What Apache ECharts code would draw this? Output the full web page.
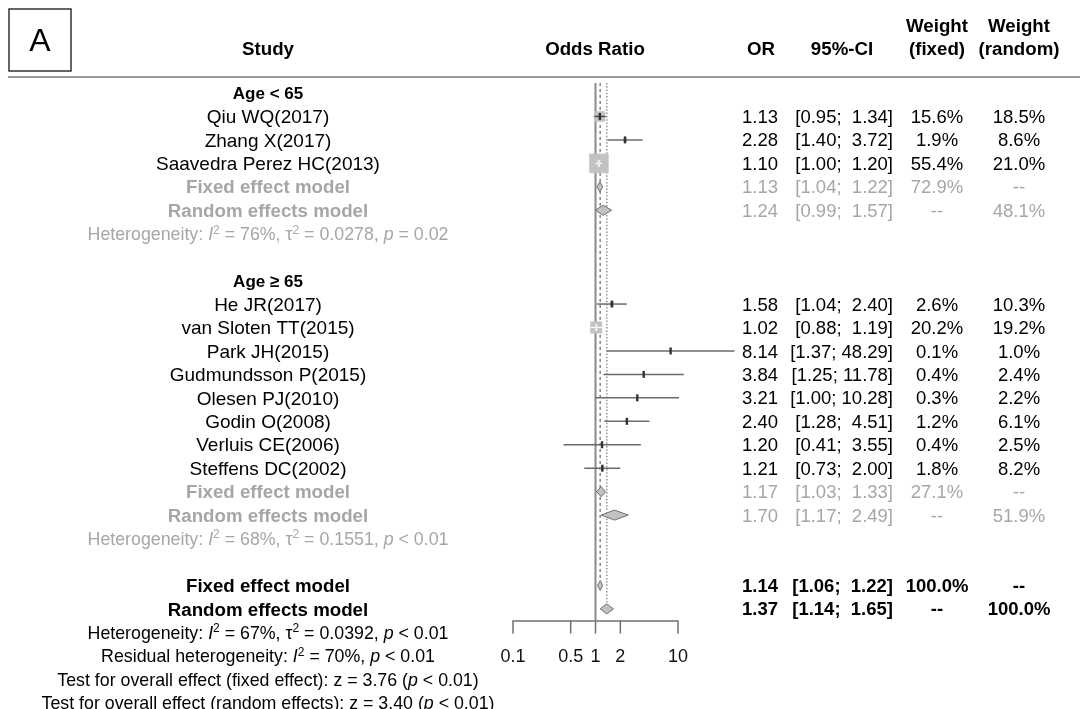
<!DOCTYPE html>
<html><head><meta charset="utf-8">
<script src="https://cdn.jsdelivr.net/npm/echarts@6/dist/echarts.min.js"></script>
<style>html,body{margin:0;padding:0;background:#fff}#c{width:1080px;height:709px}</style>
</head><body><div id="c"></div>
<script>
// ---------- data ----------
const studyNames = ['Qiu WQ(2017)','Zhang X(2017)','Saavedra Perez HC(2013)','He JR(2017)','van Sloten TT(2015)','Park JH(2015)','Gudmundsson P(2015)','Olesen PJ(2010)','Godin O(2008)','Verluis CE(2006)','Steffens DC(2002)'];
const studyRows = [1,2,3,9,10,11,12,13,14,15,16];
const studyOR = [1.13,2.28,1.10,1.58,1.02,8.14,3.84,3.21,2.40,1.20,1.21];
const studyLower = [0.95,1.40,1.00,1.04,0.88,1.37,1.25,1.00,1.28,0.41,0.73];
const studyUpper = [1.34,3.72,1.20,2.40,1.19,48.29,11.78,10.28,4.51,3.55,2.00];
const studyWFixed = [15.6,1.9,55.4,2.6,20.2,0.1,0.4,0.3,1.2,0.4,1.8];
const studyWRandom = [18.5,8.6,21.0,10.3,19.2,1.0,2.4,2.2,6.1,2.5,8.2];

const summaryNames = ['Fixed effect model','Random effects model','Fixed effect model','Random effects model','Fixed effect model','Random effects model'];
const summaryRows = [4,5,17,18,21,22];
const summaryOR = [1.13,1.24,1.17,1.70,1.14,1.37];
const summaryLower = [1.04,0.99,1.03,1.17,1.06,1.14];
const summaryUpper = [1.22,1.57,1.33,2.49,1.22,1.65];
const summaryWFixed = ['72.9%','--','27.1%','--','100.0%','--'];
const summaryWRandom = ['--','48.1%','--','51.9%','--','100.0%'];
const summaryOverall = [false,false,false,false,true,true];

const subgroupNames = ['Age < 65','Age \u2265 65'];
const subgroupRows = [0,8];

const hetRows = [6,19,23];
const hetI2 = ['76%','68%','67%'];
const hetTau2 = ['0.0278','0.1551','0.0392'];
const hetP = ['= 0.02','< 0.01','< 0.01'];
const hetOverall = [false,false,true];

const residI2 = '70%', residP = '< 0.01', residRow = 24;
const testLabels = ['fixed effect','random effects'];
const testZ = ['3.76','3.40'];
const testP = ['< 0.01','< 0.01'];
const testRows = [25,26];

const tickValues = [0.1,0.5,1,2,10];
const tickLabels = ['0.1','0.5','1','2','10'];

// ---------- styling ----------
const FONT = '"Liberation Sans", Arial, sans-serif';
const GRAY = '#a6a6a6';
const BLACK = '#000000';
const COL = {study:268, or:778, ci:893, wf:937, wr:1019};
const NAME_SIZE = 19, NUM_SIZE = 18.5, HET_SIZE = 17.8;

function rich(color, size){
  return {
    n:{fill:color, fontSize:size, fontFamily:FONT, lineHeight:22},
    i:{fill:color, fontSize:size, fontFamily:FONT, fontStyle:'italic', lineHeight:22},
    sup:{fill:color, fontSize:12, fontFamily:FONT, verticalAlign:'top', lineHeight:10}
  };
}
function fmt(v){ return v.toFixed(2); }
function ciText(lo, hi){ return '[' + fmt(lo) + '; ' + (hi < 10 ? ' ' : '') + fmt(hi) + ']'; }

// build table rows (text) from arrays
const tableRows = [];
subgroupNames.forEach((s,k)=>tableRows.push({row:subgroupRows[k], cells:[{x:COL.study, text:s, align:'center', color:BLACK, size:17, bold:true}]}));
studyNames.forEach((s,k)=>tableRows.push({row:studyRows[k], cells:[
  {x:COL.study, text:s, align:'center', color:BLACK, size:NAME_SIZE},
  {x:COL.or, text:fmt(studyOR[k]), align:'right', color:BLACK, size:NUM_SIZE},
  {x:COL.ci, text:ciText(studyLower[k], studyUpper[k]), align:'right', color:BLACK, size:NUM_SIZE},
  {x:COL.wf, text:studyWFixed[k].toFixed(1)+'%', align:'center', color:BLACK, size:NUM_SIZE},
  {x:COL.wr, text:studyWRandom[k].toFixed(1)+'%', align:'center', color:BLACK, size:NUM_SIZE}
]}));
summaryNames.forEach((s,k)=>{
  const c = summaryOverall[k] ? BLACK : GRAY;
  tableRows.push({row:summaryRows[k], cells:[
    {x:COL.study, text:s, align:'center', color:c, size:18.7, bold:true},
    {x:COL.or, text:fmt(summaryOR[k]), align:'right', color:c, size:NUM_SIZE, bold:summaryOverall[k]},
    {x:COL.ci, text:ciText(summaryLower[k], summaryUpper[k]), align:'right', color:c, size:NUM_SIZE, bold:summaryOverall[k]},
    {x:COL.wf, text:summaryWFixed[k], align:'center', color:c, size:NUM_SIZE, bold:summaryOverall[k]},
    {x:COL.wr, text:summaryWRandom[k], align:'center', color:c, size:NUM_SIZE, bold:summaryOverall[k]}
  ]});
});
hetRows.forEach((r,k)=>{
  const c = hetOverall[k] ? BLACK : GRAY;
  tableRows.push({row:r, cells:[{x:COL.study, align:'center', color:c, size:HET_SIZE, rich:true,
    text:'{n|Heterogeneity: }{i|I}{sup|2}{n| = '+hetI2[k]+', \u03c4}{sup|2}{n| = '+hetTau2[k]+', }{i|p}{n| '+hetP[k]+'}'}]});
});
tableRows.push({row:residRow, cells:[{x:COL.study, align:'center', color:BLACK, size:HET_SIZE, rich:true,
  text:'{n|Residual heterogeneity: }{i|I}{sup|2}{n| = '+residI2+', }{i|p}{n| '+residP+'}'}]});
testLabels.forEach((t,k)=>tableRows.push({row:testRows[k], cells:[{x:COL.study, align:'center', color:BLACK, size:HET_SIZE, rich:true,
  text:'{n|Test for overall effect ('+t+'): z = '+testZ[k]+' (}{i|p}{n| '+testP[k]+')}'}]}));

// ---------- chart ----------
const chart = echarts.init(document.getElementById('c'), null, {renderer:'canvas'});
const ROW0 = 93, ROWH = 23.45;
const gridTop = ROW0 - 0.5*ROWH;
const gridBottomPx = ROW0 + 22.5*ROWH;
const TEXT_DY = 1.5;

function renderTable(params, api){
  const t = tableRows[params.dataIndex];
  const y = api.coord([1, t.row])[1] + TEXT_DY;
  return {type:'group', children:t.cells.map(c=>{
    const style = {x:c.x, y:y, text:c.text, fill:c.color, align:c.align, verticalAlign:'middle',
      fontSize:c.size, fontFamily:FONT, fontWeight:c.bold?'bold':'normal'};
    if (c.rich) style.rich = rich(c.color, c.size);
    return {type:'text', style:style};
  })};
}

function renderRef(params, api){
  const x = api.coord([api.value(0), 0])[0];
  const y1 = api.coord([1, api.value(1)])[1];
  const y2 = api.coord([1, api.value(2)])[1];
  const kind = api.value(3);
  const st = kind === 0 ? {stroke:'#8a8a8a', lineWidth:2} :
             kind === 1 ? {stroke:'#8a8a8a', lineWidth:1.6, lineDash:[3,3]} :
                          {stroke:'#9a9a9a', lineWidth:1.6, lineDash:[1.5,1.8]};
  return {type:'line', shape:{x1:x, y1:y1, x2:x, y2:y2}, style:st};
}

function renderStudy(params, api){
  const or = api.value(0), lo = api.value(1), hi = api.value(2), row = api.value(3), w = api.value(4);
  const p = api.coord([or, row]);
  const xl = api.coord([lo, row])[0], xh = api.coord([hi, row])[0];
  const side = 2.55*Math.sqrt(w);
  const inside = (xh - xl) < side;
  const ch = [];
  if (!inside) ch.push({type:'line', shape:{x1:xl, y1:p[1], x2:xh, y2:p[1]}, style:{stroke:'#6a6a6a', lineWidth:1.5}});
  ch.push({type:'rect', shape:{x:p[0]-side/2, y:p[1]-side/2, width:side, height:side}, style:{fill:'#c2c2c2', stroke:'#c2c2c2', lineWidth:0.5}});
  if (inside) ch.push({type:'line', shape:{x1:xl, y1:p[1], x2:xh, y2:p[1]}, style:{stroke:'#ffffff', lineWidth:1.2}});
  else ch.push({type:'line', shape:{x1:Math.max(xl,p[0]-side/2), y1:p[1], x2:Math.min(xh,p[0]+side/2), y2:p[1]}, style:{stroke:'#4a4a4a', lineWidth:1.5}});
  ch.push({type:'rect', shape:{x:p[0]-1.2, y:p[1]-3.5, width:2.4, height:7}, style:{fill: inside ? '#eeeeee' : '#333333'}});
  return {type:'group', children:ch};
}

function renderDiamond(params, api){
  const or = api.value(0), lo = api.value(1), hi = api.value(2), row = api.value(3);
  const c = api.coord([or, row]);
  const xl = api.coord([lo, row])[0], xh = api.coord([hi, row])[0];
  const h = 5;
  return {type:'polygon', shape:{points:[[xl,c[1]],[c[0],c[1]-h],[xh,c[1]],[c[0],c[1]+h]]},
    style:{fill:'#c2c2c2', stroke:'#707070', lineWidth:1}};
}

function renderTicks(params, api){
  const v = api.value(0);
  const x = api.coord([v, 0])[0];
  const y = api.coord([1, 22.5])[1];
  return {type:'group', children:[
    {type:'line', shape:{x1:x, y1:y, x2:x, y2:y+13}, style:{stroke:'#707070', lineWidth:1.5}},
    {type:'text', style:{x:x, y:y+36, text:tickLabels[params.dataIndex], align:'center', verticalAlign:'middle', fontSize:18, fontFamily:FONT, fill:'#111'}}
  ]};
}

const refData = [[1, -0.43, 22.5, 0],[summaryOR[4], -0.43, 20.8, 1],[summaryOR[5], -0.43, 21.8, 2]];

const headerText = (x,y,t)=>({type:'text', x:x, y:y, style:{text:t, align:'center', verticalAlign:'middle', fontSize:18.7, fontWeight:'bold', fontFamily:FONT, fill:'#000'}});

chart.setOption({
  animation:false,
  backgroundColor:'#ffffff',
  grid:{left:513, right:1080-678, top:gridTop, bottom:709-gridBottomPx},
  xAxis:{type:'log', logBase:10, min:0.1, max:10, position:'bottom',
    axisLine:{show:true, onZero:false, lineStyle:{color:'#707070', width:1.5}},
    axisTick:{show:false}, axisLabel:{show:false}, splitLine:{show:false}},
  yAxis:{type:'value', min:-0.5, max:22.5, inverse:true, show:false},
  graphic:[
    {type:'rect', shape:{x:9, y:9, width:62, height:62}, style:{fill:'#fff', stroke:'#333', lineWidth:1.5}},
    {type:'text', x:40, y:42, style:{text:'A', align:'center', verticalAlign:'middle', fontSize:32, fontFamily:FONT, fill:'#000'}},
    {type:'line', shape:{x1:8, y1:77, x2:1080, y2:77}, style:{stroke:'#777', lineWidth:1.5}},
    headerText(COL.study, 50, 'Study'),
    headerText(595, 50, 'Odds Ratio'),
    headerText(761, 50, 'OR'),
    headerText(842, 50, '95%-CI'),
    headerText(COL.wf, 27, 'Weight'),
    headerText(COL.wf, 50, '(fixed)'),
    headerText(COL.wr, 27, 'Weight'),
    headerText(COL.wr, 50, '(random)')
  ],
  series:[
    {type:'custom', name:'ref', renderItem:renderRef, data:refData, clip:false, silent:true, z:1},
    {type:'custom', name:'studies', renderItem:renderStudy, clip:false, silent:true, z:3,
      data:studyOR.map((v,k)=>[v, studyLower[k], studyUpper[k], studyRows[k], studyWFixed[k]])},
    {type:'custom', name:'summary', renderItem:renderDiamond, clip:false, silent:true, z:3,
      data:summaryOR.map((v,k)=>[v, summaryLower[k], summaryUpper[k], summaryRows[k]])},
    {type:'custom', name:'ticks', renderItem:renderTicks, clip:false, silent:true, z:2,
      data:tickValues.map(v=>[v, 22.5])},
    {type:'custom', name:'table', renderItem:renderTable, clip:false, silent:true, z:4,
      data:tableRows.map(t=>[1, t.row])}
  ]
});
</script>
</body></html>
